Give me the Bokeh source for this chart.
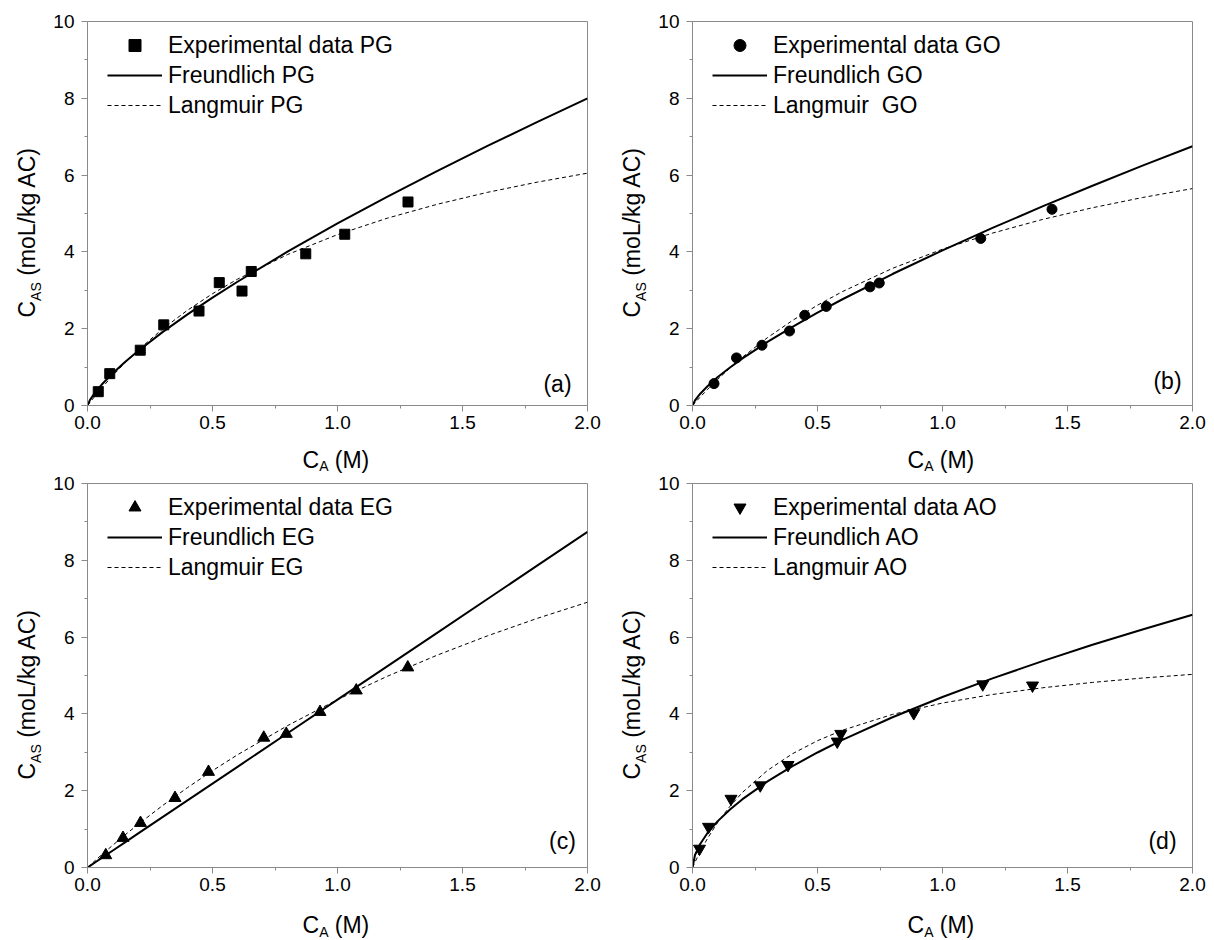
from bokeh.plotting import figure
from bokeh.layouts import row, column
from bokeh.models import (FixedTicker, NumeralTickFormatter, Label, Legend,
                          LegendItem, Range1d)
from bokeh.embed import file_html
from bokeh.resources import INLINE
import math

FONT = "Liberation Sans"

CURVE_X = [0, 0.01, 0.03, 0.06, 0.1, 0.15, 0.2, 0.3, 0.4, 0.5, 0.6, 0.8,
           1.0, 1.2, 1.4, 1.6, 1.8, 2.0]

# (a) PG
PG_X = [0.043, 0.089, 0.211, 0.305, 0.446, 0.527, 0.618, 0.655, 0.873, 1.029, 1.282]
PG_Y = [0.36, 0.83, 1.44, 2.10, 2.46, 3.20, 2.98, 3.49, 3.95, 4.46, 5.30]
PG_FREUND = [0, 0.147, 0.336, 0.566, 0.833, 1.132, 1.406, 1.910, 2.373, 2.809,
             3.223, 4.005, 4.740, 5.439, 6.111, 6.759, 7.388, 7.999]
PG_LANG = [0, 0.083, 0.246, 0.479, 0.773, 1.113, 1.428, 1.992, 2.481, 2.911,
           3.290, 3.930, 4.450, 4.880, 5.242, 5.551, 5.818, 6.050]

# (b) GO
GO_X = [0.086, 0.176, 0.278, 0.388, 0.449, 0.535, 0.710, 0.747, 1.153, 1.438]
GO_Y = [0.57, 1.24, 1.57, 1.94, 2.35, 2.58, 3.09, 3.19, 4.35, 5.11]
GO_FREUND = [0, 0.133, 0.301, 0.502, 0.734, 0.991, 1.226, 1.655, 2.049, 2.418,
             2.767, 3.424, 4.040, 4.624, 5.184, 5.723, 6.245, 6.752]
GO_LANG = [0, 0.072, 0.214, 0.418, 0.675, 0.977, 1.259, 1.767, 2.215, 2.612,
           2.967, 3.572, 4.071, 4.489, 4.845, 5.150, 5.416, 5.649]

# (c) EG
EG_X = [0.073, 0.142, 0.212, 0.350, 0.484, 0.705, 0.795, 0.930, 1.075, 1.281]
EG_Y = [0.32, 0.77, 1.16, 1.81, 2.49, 3.38, 3.48, 4.05, 4.61, 5.21]
EG_FREUND = [0, 0.044, 0.131, 0.262, 0.437, 0.656, 0.874, 1.311, 1.748, 2.185,
             2.622, 3.496, 4.370, 5.244, 6.118, 6.992, 7.866, 8.740]
EG_LANG = [0, 0.059, 0.177, 0.350, 0.575, 0.847, 1.111, 1.612, 2.081, 2.521,
           2.935, 3.694, 4.372, 4.982, 5.533, 6.033, 6.490, 6.908]

# (d) AO
AO_X = [0.028, 0.064, 0.154, 0.271, 0.382, 0.579, 0.593, 0.885, 1.161, 1.360]
AO_Y = [0.49, 1.06, 1.79, 2.14, 2.67, 3.28, 3.48, 4.02, 4.77, 4.74]
AO_FREUND = [0, 0.325, 0.606, 0.898, 1.201, 1.512, 1.780, 2.241, 2.638, 2.995,
             3.322, 3.912, 4.440, 4.925, 5.375, 5.799, 6.200, 6.582]
AO_LANG = [0, 0.141, 0.404, 0.757, 1.166, 1.596, 1.957, 2.529, 2.963, 3.302,
           3.575, 3.987, 4.283, 4.506, 4.680, 4.820, 4.934, 5.030]

X_TICKS = [0, 0.5, 1.0, 1.5, 2.0]
X_MINOR = [0.25, 0.75, 1.25, 1.75]
Y_TICKS = [0, 2, 4, 6, 8, 10]
Y_MINOR = [1, 3, 5, 7, 9]

X_TITLE = ["C", "A", "(M)"]
Y_TITLE = ["C", "AS", "(moL/kg AC)"]

PANELS = [
    dict(x=PG_X, y=PG_Y, fr=PG_FREUND, la=PG_LANG, marker="square", size=10,
         names=["Experimental data PG", "Freundlich PG", "Langmuir PG"],
         tag="(a)", tag_pos=(1.88, 0.57)),
    dict(x=GO_X, y=GO_Y, fr=GO_FREUND, la=GO_LANG, marker="circle", size=10,
         names=["Experimental data GO", "Freundlich GO", "Langmuir  GO"],
         tag="(b)", tag_pos=(1.90, 0.65)),
    dict(x=EG_X, y=EG_Y, fr=EG_FREUND, la=EG_LANG, marker="triangle", size=12,
         names=["Experimental data EG", "Freundlich EG", "Langmuir EG"],
         tag="(c)", tag_pos=(1.90, 0.70)),
    dict(x=AO_X, y=AO_Y, fr=AO_FREUND, la=AO_LANG, marker="inverted_triangle", size=12,
         names=["Experimental data AO", "Freundlich AO", "Langmuir AO"],
         tag="(d)", tag_pos=(1.88, 0.70)),
]

GRAY = "#8a8a8a"


def make_panel(cfg, width, height, bl, br, bt, bb):
    p = figure(width=width, height=height, x_range=Range1d(0, 2), y_range=Range1d(0, 10),
               output_backend="svg", toolbar_location=None,
               min_border_left=bl, min_border_right=br,
               min_border_top=bt, min_border_bottom=bb)
    p.grid.visible = False
    p.outline_line_color = GRAY
    p.outline_line_width = 1
    p.background_fill_color = "white"
    p.border_fill_color = "white"

    p.xaxis.ticker = FixedTicker(ticks=X_TICKS, minor_ticks=X_MINOR)
    p.yaxis.ticker = FixedTicker(ticks=Y_TICKS, minor_ticks=Y_MINOR)
    p.xaxis.formatter = NumeralTickFormatter(format="0.0")
    p.yaxis.formatter = NumeralTickFormatter(format="0")
    for ax in (p.xaxis, p.yaxis):
        ax.axis_line_color = GRAY
        ax.major_tick_line_color = GRAY
        ax.minor_tick_line_color = GRAY
        ax.major_tick_out = 6
        ax.major_tick_in = 0
        ax.minor_tick_out = 3
        ax.minor_tick_in = 0
        ax.major_label_text_font = FONT
        ax.major_label_text_font_size = "19px"
        ax.major_label_text_color = "black"
    p.xaxis.major_label_standoff = 4
    p.yaxis.major_label_standoff = 7

    r_sc = p.scatter(cfg["x"], cfg["y"], marker=cfg["marker"], size=cfg["size"],
                     fill_color="black", line_color="black")
    r_fr = p.line(CURVE_X, cfg["fr"], line_color="black", line_width=2)
    r_la = p.line(CURVE_X, cfg["la"], line_color="black", line_width=1, line_dash="4 3")

    legend = Legend(items=[LegendItem(label=cfg["names"][0], renderers=[r_sc]),
                           LegendItem(label=cfg["names"][1], renderers=[r_fr]),
                           LegendItem(label=cfg["names"][2], renderers=[r_la])],
                    location=(20, 285), border_line_color=None,
                    background_fill_alpha=0, padding=0, margin=0, spacing=0,
                    glyph_width=55, glyph_height=30, label_height=30,
                    label_standoff=6, label_text_font=FONT,
                    label_text_color="black", label_text_font_size="23px")
    p.add_layout(legend)

    p.add_layout(Label(x=cfg["tag_pos"][0], y=cfg["tag_pos"][1], text=cfg["tag"],
                       text_font=FONT, text_font_size="23px", text_color="black",
                       text_align="center", text_baseline="middle"))
    return p


def blank(width, height, bt=0, bb=0, y_span=None):
    y_span = height if y_span is None else y_span
    f = figure(width=width, height=height, x_range=Range1d(0, width),
               y_range=Range1d(0, y_span), output_backend="svg", toolbar_location=None,
               x_axis_type=None, y_axis_type=None,
               min_border_left=0, min_border_right=0,
               min_border_top=bt, min_border_bottom=bb)
    f.grid.visible = False
    f.outline_line_color = None
    f.background_fill_color = "white"
    f.border_fill_color = "white"
    return f


def piece(f, x, y, text, size, angle=0.0):
    f.add_layout(Label(x=x, y=y, text=text, angle=angle, text_font=FONT,
                       text_font_size=size, text_color="black",
                       text_align="center", text_baseline="middle"))


def add_x_title(f, x0, yc, sub_drop):
    # x0: left edge of the title, yc: vertical centre of the main text (px from bottom)
    piece(f, x0 + 8.3, yc, X_TITLE[0], "23px")
    piece(f, x0 + 21.3, yc - sub_drop, X_TITLE[1], "14px")
    piece(f, x0 + 49.5, yc, X_TITLE[2], "23px")


def y_strip(width, height, bt, bb, xc, y0):
    # strip frame is aligned with the neighbouring panel frame (384 px tall);
    # y coordinates are pixels above the frame bottom
    f = blank(width, height, bt, bb, y_span=height - bt - bb)
    ang = math.pi / 2
    piece(f, xc, y0 + 8.3, Y_TITLE[0], "23px", ang)
    piece(f, xc + 9.2, y0 + 25.9, Y_TITLE[1], "14px", ang)
    piece(f, xc, y0 + 106.2, Y_TITLE[2], "23px", ang)
    return f


TOP_H, BOT_H = 445, 434
pa = make_panel(PANELS[0], 568, TOP_H, 42, 26, 21, 40)
pb = make_panel(PANELS[1], 564, TOP_H, 44, 20, 21, 40)
pc = make_panel(PANELS[2], 568, BOT_H, 42, 26, 10, 40)
pd = make_panel(PANELS[3], 564, BOT_H, 44, 20, 10, 40)

ya = y_strip(45, TOP_H, 21, 40, 26, 88)
yb_ = y_strip(35, TOP_H, 21, 40, 18, 88)
yc = y_strip(45, BOT_H, 10, 40, 26, 88)
yd = y_strip(35, BOT_H, 10, 40, 18, 88)

x1 = blank(1212, 28)
add_x_title(x1, 302, 14, 6)
add_x_title(x1, 907, 14, 6)
x2 = blank(1212, 32)
add_x_title(x2, 302, 15, 7)
add_x_title(x2, 907, 15, 7)

layout = column(row(ya, pa, yb_, pb), x1, row(yc, pc, yd, pd), x2)

open("out.html", "w").write(file_html(layout, INLINE))
